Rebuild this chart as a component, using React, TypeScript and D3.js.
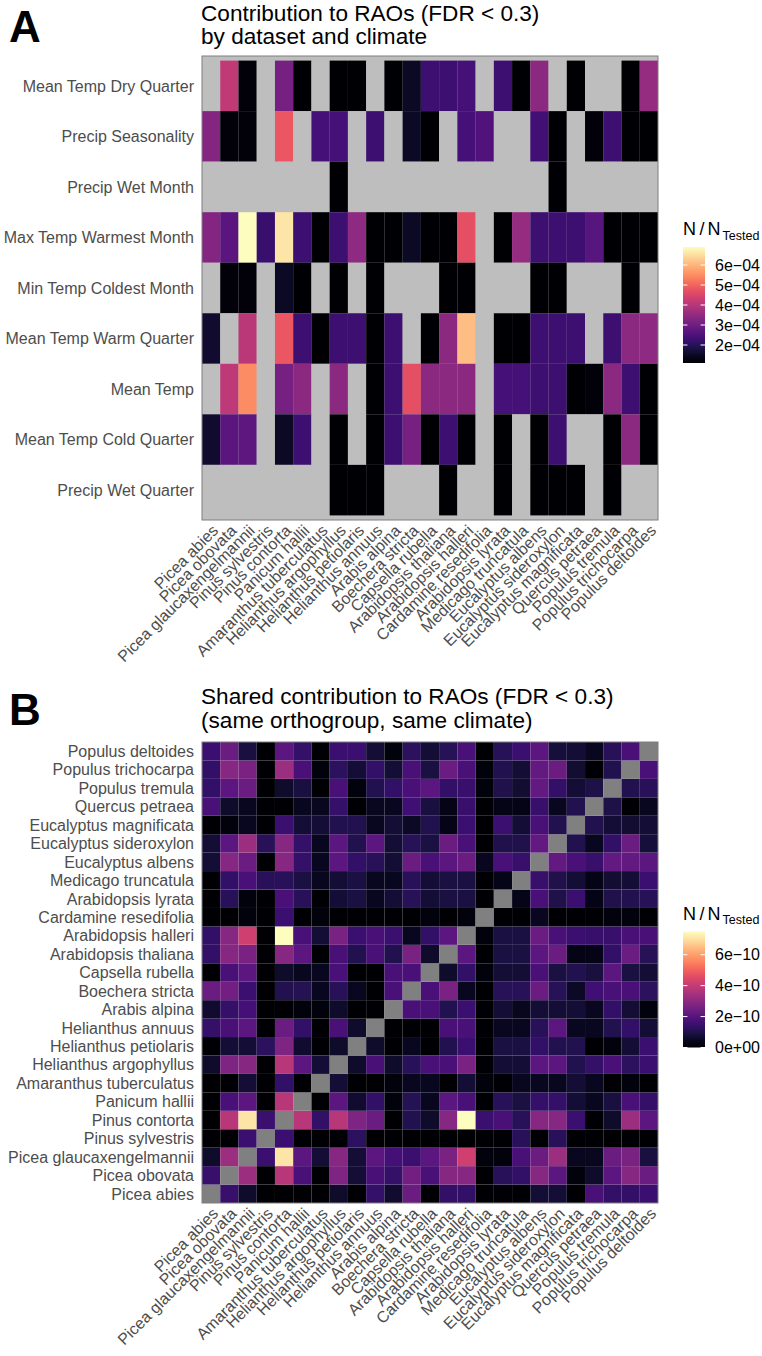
import React from "react";
import * as d3 from "d3";

// ---------- DATA ----------
const SPECIES = [
  "Picea abies", "Picea obovata", "Picea glaucaxengelmannii", "Pinus sylvestris", "Pinus contorta",
  "Panicum hallii", "Amaranthus tuberculatus", "Helianthus argophyllus", "Helianthus petiolaris",
  "Helianthus annuus", "Arabis alpina", "Boechera stricta", "Capsella rubella", "Arabidopsis thaliana",
  "Arabidopsis halleri", "Cardamine resedifolia", "Arabidopsis lyrata", "Medicago truncatula",
  "Eucalyptus albens", "Eucalyptus sideroxylon", "Eucalyptus magnificata", "Quercus petraea",
  "Populus tremula", "Populus trichocarpa", "Populus deltoides",
];

const CLIMATE = [
  "Mean Temp Dry Quarter", "Precip Seasonality", "Precip Wet Month", "Max Temp Warmest Month",
  "Min Temp Coldest Month", "Mean Temp Warm Quarter", "Mean Temp", "Mean Temp Cold Quarter",
  "Precip Wet Quarter",
];

// Panel A values, in units of 1e-4 (null = not tested)
const A_UNIT = 1e-4;
const _ = null;
const A_MEAN_TEMP_DRY_Q = [_, 4.15, 1.2, _, 3.1, 1.1, _, 1.1, 1.1, _, 1.1, 1.5, 2.3, 2.3, 2.4, _, 2.3, 1.1, 3.4, _, 1.1, _, _, 1.1, 3.55];
const A_PRECIP_SEAS = [3.3, 1.2, 1.2, _, 4.8, _, 2.4, 2.4, _, 2.3, _, 1.5, 1.1, _, 2.4, 2.55, _, _, 2.35, 1.1, _, 1.2, 2.3, 1.1, 1.1];
const A_PRECIP_WET_M = [_, _, _, _, _, _, _, 1.1, _, _, _, _, _, _, _, _, _, _, _, 1.1, _, _, _, _, _];
const A_MAX_TEMP_WARM_M = [3.3, 2.7, 6.9, 2.25, 6.6, 2.3, 1.1, 2.3, 3.45, 1.1, 1.1, 1.5, 1.1, 1.1, 4.7, _, 1.1, 3.55, 2.3, 2.3, 2.3, 2.65, 1.1, 1.1, 1.1];
const A_MIN_TEMP_COLD_M = [_, 1.2, 1.2, _, 1.5, 1.1, _, 1.1, _, 1.1, _, _, _, 1.1, 1.1, _, _, _, 1.1, 1.1, _, _, _, 1.1, _];
const A_MEAN_TEMP_WARM_Q = [1.6, _, 4.05, _, 4.8, 2.3, 1.1, 2.3, 2.3, 1.1, 2.3, _, 1.1, 3.4, 6.1, _, 1.1, 1.1, 2.3, 2.3, 2.3, _, 2.3, 3.4, 3.45];
const A_MEAN_TEMP = [_, 4.1, 5.5, _, 3.1, 3.4, _, 3.4, _, 1.1, 2.3, 4.7, 3.4, 3.4, 3.4, _, 2.4, 2.4, 2.3, 2.3, 1.1, 1.2, 3.4, 2.3, 1.1];
const A_MEAN_TEMP_COLD_Q = [1.6, 2.7, 2.75, _, 1.5, 2.3, _, 1.1, _, 1.1, 2.3, 3.1, 1.1, 2.3, 1.1, _, 1.1, _, 1.1, 2.3, _, _, 1.1, 3.4, 1.1];
const A_PRECIP_WET_Q = [_, _, _, _, _, _, _, 1.1, 1.1, 1.1, _, _, _, 1.1, _, _, 1.1, _, 1.1, 1.1, 1.1, _, 1.1, _, _];

const A_ROWS = [
  A_MEAN_TEMP_DRY_Q, A_PRECIP_SEAS, A_PRECIP_WET_M, A_MAX_TEMP_WARM_M, A_MIN_TEMP_COLD_M,
  A_MEAN_TEMP_WARM_Q, A_MEAN_TEMP, A_MEAN_TEMP_COLD_Q, A_PRECIP_WET_Q,
];

// Panel B: symmetric matrix, lower triangle (row species i, columns 1..i-1), units of 1e-10
const B_UNIT = 1e-10;
const B_LOWER = [
  [1.45],
  [0.6, 3.3],
  [0, 0, 1.5],
  [0, 3.8, 7.1, 1.5],
  [0, 1.75, 2.1, 0, 3.8],
  [0, 0, 0.75, 0, 1.35, 0],
  [0.6, 2.75, 2.9, 0, 3.8, 2.1, 0.75],
  [0, 0.75, 0.75, 1.25, 2.75, 0.65, 0, 0.6],
  [1.4, 1.75, 2.1, 0, 2.35, 1.35, 0, 1.75, 0.6],
  [0.65, 1.4, 1.65, 0, 0, 0.2, 0.2, 0.6, 0, 0],
  [2.35, 2.5, 1.5, 0, 1.05, 1.1, 0.45, 1.2, 0.45, 0, 1.75],
  [0, 1.75, 2.1, 0, 0.6, 0.45, 0.45, 1.75, 0, 0, 1.75, 1.75],
  [1.35, 2.9, 2.65, 0, 2.9, 2.1, 0, 1.75, 1.05, 1.75, 1.05, 2.65, 0.6],
  [1.35, 2.9, 4.2, 0, 7.5, 1.75, 0.75, 2.65, 1.5, 1.75, 1.5, 0.45, 1.35, 2.1],
  [0, 0, 0.2, 0, 1.5, 0, 0.2, 0, 0, 0, 0, 0, 0.2, 0, 0.2],
  [0, 1.2, 0.2, 0, 1.75, 1.2, 0, 0.75, 0.9, 0.45, 0.75, 1.15, 0.75, 0.9, 0.9, 0],
  [0, 1.35, 1.75, 1.2, 1.2, 0.9, 0.45, 0.75, 0.9, 0.45, 0.45, 1.2, 0.75, 0.9, 0.9, 0, 0.35],
  [0.75, 2.9, 2.35, 0, 2.9, 1.4, 0.45, 2.1, 1.35, 1.2, 0.75, 2.35, 1.75, 2.1, 2.35, 0.45, 1.75, 1.45],
  [0.75, 2.1, 3.3, 1.2, 2.9, 1.4, 0.45, 2.1, 1.05, 2.1, 0.75, 1.15, 0.9, 2.35, 1.75, 0, 1.0, 1.0, 2.2],
  [0, 0.2, 0.45, 0, 1.5, 0.75, 0.75, 1.05, 1.05, 0.45, 0.75, 0.55, 1.05, 0.3, 1.5, 0, 1.5, 0.75, 1.75, 1.05],
  [1.75, 0.6, 0.45, 0, 0, 0.45, 0.45, 1.4, 0, 0.45, 0.45, 1.6, 0.85, 0.3, 1.45, 0, 0.3, 0.3, 1.45, 0.45, 1.05],
  [1.35, 2.1, 2.35, 0, 0.6, 0.85, 0, 1.75, 0.2, 1.05, 1.35, 1.75, 2.1, 1.35, 1.45, 0.2, 1.0, 0.7, 2.2, 1.35, 0.75, 0.95],
  [1.35, 2.9, 2.65, 0, 3.3, 1.75, 0.2, 1.25, 0.75, 1.35, 0.75, 1.75, 0.9, 2.35, 1.75, 0.2, 1.05, 0.75, 2.2, 2.35, 0.7, 0, 1.05],
  [1.5, 2.35, 0.85, 0, 2.1, 1.4, 0, 1.5, 1.5, 0.75, 0.2, 1.25, 0.75, 1.15, 1.75, 0, 1.15, 1.5, 2.1, 0.8, 0.75, 0.45, 1.2, 1.75],
];

const A_LEGEND_TICKS = [2e-4, 3e-4, 4e-4, 5e-4, 6e-4];
const A_LEGEND_LABELS = ["2e\u221204", "3e\u221204", "4e\u221204", "5e\u221204", "6e\u221204"];
const B_LEGEND_TICKS = [0, 2e-10, 4e-10, 6e-10];
const B_LEGEND_LABELS = ["0e+00", "2e\u221210", "4e\u221210", "6e\u221210"];

// ---------- LAYOUT ----------
const W = 762;
const H = 1356;
const FONT = "'Liberation Sans', Arial, Helvetica, sans-serif";
const PA = { x0: 202, x1: 658, y0: 56, y1: 520, pad: 4.6 };
const PB = { x0: 202, x1: 658, y0: 742, y1: 1203 };
const AXIS_COL = "#4d4d4d";
const BORDER_COL = "#7f7f7f";
const TITLE_SIZE = 22.6;

function Legend({ id, scale, top, ticks, labels, titleBase }: any) {
  const x = 683, w = 22, h = 116;
  const y = d3.scaleLinear().domain(scale.domain()).range([top + h, top]);
  const stops = d3.range(0, 1.0001, 0.05);
  return (
    <g>
      <defs>
        <linearGradient id={id} x1="0" y1="1" x2="0" y2="0">
          {stops.map((t) => (
            <stop key={t} offset={t} stopColor={d3.interpolateMagma(t)} />
          ))}
        </linearGradient>
      </defs>
      <text y={titleBase} fontFamily={FONT} fontSize={18} fill="#000">
        <tspan x={683}>N</tspan>
        <tspan x={699.5}>/</tspan>
        <tspan x={707.5}>N</tspan>
        <tspan x={722.5} dy={4.5} fontSize={12.5}>Tested</tspan>
      </text>
      <rect x={x} y={top} width={w} height={h} fill={`url(#${id})`} />
      {ticks.map((t: number, i: number) => (
        <g key={i}>
          <line x1={x} x2={x + w / 5} y1={y(t)} y2={y(t)} stroke="#fff" strokeWidth={1} />
          <line x1={x + w - w / 5} x2={x + w} y1={y(t)} y2={y(t)} stroke="#fff" strokeWidth={1} />
          <text x={715} y={y(t)} dy="0.36em" fontFamily={FONT} fontSize={16} fill="#000">
            {labels[i]}
          </text>
        </g>
      ))}
    </g>
  );
}

export default function App() {
  // Panel A
  const xA = d3.scaleBand<string>().domain(SPECIES).range([PA.x0, PA.x1]);
  const yA = d3.scaleBand<string>().domain(CLIMATE).range([PA.y0 + PA.pad, PA.y1 - PA.pad]);
  const aCells = CLIMATE.flatMap((c, i) =>
    A_ROWS[i].map((v, j) => ({ c, s: SPECIES[j], v: v == null ? null : v * A_UNIT }))
  );
  const aVals = aCells.filter((d) => d.v != null).map((d) => d.v as number);
  const colA = d3.scaleSequential(d3.interpolateMagma).domain(d3.extent(aVals) as [number, number]);

  // Panel B
  const xB = d3.scaleBand<string>().domain(SPECIES).range([PB.x0, PB.x1]);
  const yB = d3.scaleBand<string>().domain([...SPECIES].reverse()).range([PB.y0, PB.y1]);
  const bCells: { r: string; c: string; v: number | null }[] = [];
  SPECIES.forEach((rs, i) =>
    SPECIES.forEach((cs, j) => {
      let v: number | null = null;
      if (i > j) v = B_LOWER[i - 1][j] * B_UNIT;
      else if (j > i) v = B_LOWER[j - 1][i] * B_UNIT;
      bCells.push({ r: rs, c: cs, v });
    })
  );
  const bVals = bCells.filter((d) => d.v != null).map((d) => d.v as number);
  const colB = d3.scaleSequential(d3.interpolateMagma).domain(d3.extent(bVals) as [number, number]);

  const xLabels = (xs: d3.ScaleBand<string>, y0: number) =>
    SPECIES.map((s) => (
      <text
        key={s}
        transform={`translate(${(xs(s) as number) + xs.bandwidth() / 2},${y0}) rotate(-45)`}
        textAnchor="end"
        dy="0.72em"
        fontFamily={FONT}
        fontSize={16}
        fill={AXIS_COL}
      >
        {s}
      </text>
    ));

  return (
    <svg
      width={W}
      height={H}
      viewBox={`0 0 ${W} ${H}`}
      style={{ position: "absolute", left: 0, top: 0, background: "#fff" }}
    >
      <rect x={0} y={0} width={W} height={H} fill="#fff" />

      {/* Panel A */}
      <text x={9} y={42} fontFamily={FONT} fontSize={44} fontWeight="bold" fill="#000">A</text>
      <text fontFamily={FONT} fontSize={TITLE_SIZE} fill="#000">
        <tspan x={201} y={20.5}>Contribution to RAOs (FDR &lt; 0.3)</tspan>
        <tspan x={201} y={44}>by dataset and climate</tspan>
      </text>
      <rect x={PA.x0} y={PA.y0} width={PA.x1 - PA.x0} height={PA.y1 - PA.y0} fill="#bebebe" />
      {aCells.map((d, i) => (
        <rect
          key={i}
          x={xA(d.s)}
          y={yA(d.c)}
          width={xA.bandwidth()}
          height={yA.bandwidth()}
          fill={d.v == null ? "#bebebe" : colA(d.v)}
        />
      ))}
      <rect x={PA.x0} y={PA.y0} width={PA.x1 - PA.x0} height={PA.y1 - PA.y0} fill="none" stroke={BORDER_COL} strokeWidth={1} />
      {CLIMATE.map((c) => (
        <text key={c} x={194} y={(yA(c) as number) + yA.bandwidth() / 2} dy="0.36em" textAnchor="end" fontFamily={FONT} fontSize={16} fill={AXIS_COL}>
          {c}
        </text>
      ))}
      {xLabels(xA, PA.y1 + 3.5)}
      <Legend id="gradA" scale={colA} top={247} ticks={A_LEGEND_TICKS} labels={A_LEGEND_LABELS} titleBase={235} />

      {/* Panel B */}
      <text x={9} y={725} fontFamily={FONT} fontSize={44} fontWeight="bold" fill="#000">B</text>
      <text fontFamily={FONT} fontSize={TITLE_SIZE} fill="#000">
        <tspan x={201} y={704}>Shared contribution to RAOs (FDR &lt; 0.3)</tspan>
        <tspan x={201} y={727.5}>(same orthogroup, same climate)</tspan>
      </text>
      {bCells.map((d, i) => (
        <rect
          key={i}
          x={xB(d.c)}
          y={yB(d.r)}
          width={xB.bandwidth()}
          height={yB.bandwidth()}
          fill={d.v == null ? "#808080" : colB(d.v)}
        />
      ))}
      <rect x={PB.x0} y={PB.y0} width={PB.x1 - PB.x0} height={PB.y1 - PB.y0} fill="none" stroke={BORDER_COL} strokeWidth={1} />
      {SPECIES.map((s) => (
        <text key={s} x={194} y={(yB(s) as number) + yB.bandwidth() / 2} dy="0.36em" textAnchor="end" fontFamily={FONT} fontSize={16} fill={AXIS_COL}>
          {s}
        </text>
      ))}
      {xLabels(xB, PB.y1 + 3.5)}
      <Legend id="gradB" scale={colB} top={931.5} ticks={B_LEGEND_TICKS} labels={B_LEGEND_LABELS} titleBase={919.5} />
    </svg>
  );
}
